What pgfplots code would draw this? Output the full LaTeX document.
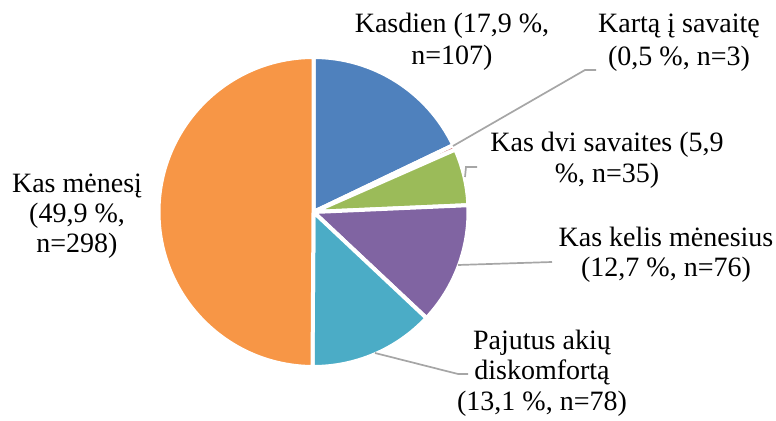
\documentclass[border=0pt]{standalone}
\usepackage{fontspec}
\setmainfont{Liberation Serif}
\usepackage{pgfplots}
\usepackage{pgfplotstable}
\pgfplotsset{compat=1.18}
\definecolor{pieblue}{HTML}{4F81BD}
\definecolor{piered}{HTML}{C0504D}
\definecolor{piegreen}{HTML}{9BBB59}
\definecolor{piepurple}{HTML}{8064A2}
\definecolor{pieteal}{HTML}{4BACC6}
\definecolor{pieorange}{HTML}{F79646}
\definecolor{leader}{HTML}{A6A6A6}

% share of answers (%), count, slice colour; clockwise from 12 o'clock
\pgfplotstableread[col sep=comma]{
pct,n,colour
17.9,107,pieblue
0.5,3,piered
5.9,35,piegreen
12.7,76,piepurple
13.1,78,pieteal
49.9,298,pieorange
}\piedata

\begin{document}
\begin{tikzpicture}[
  lbl/.style={anchor=base, inner sep=0pt, font=\fontsize{28bp}{32bp}\selectfont},
]
\begin{axis}[
  width=776bp, height=421bp, scale only axis,
  xmin=0, xmax=776, ymin=0, ymax=421,
  hide axis, clip=false,
]
\pgfplotsextra{%
  \pgfplotstablegetrowsof{\piedata}%
  \pgfmathtruncatemacro\lastrow{\pgfplotsretval-1}%
  \xdef\startang{90}%
  \foreach \i in {0,...,\lastrow}{%
    \pgfplotstablegetelem{\i}{pct}\of\piedata
    \pgfmathsetmacro\endang{\startang-3.6*\pgfplotsretval}%
    \pgfplotstablegetelem{\i}{colour}\of\piedata
    \edef\slicecol{\pgfplotsretval}%
    \filldraw[fill=\slicecol, draw=white, line width=4bp, line join=round]
      (axis cs:313.5,209) -- ([shift={(\startang:155bp)}]axis cs:313.5,209)
      arc[start angle=\startang, end angle=\endang, radius=155bp] -- cycle;
    \xdef\startang{\endang}%
  }%
}

% leader lines
\draw[leader, line width=1.7bp] (axis cs:453,275) -- (axis cs:585,351) -- (axis cs:596,351);
\draw[leader, line width=1.7bp] (axis cs:465,244) -- (axis cs:466,254) -- (axis cs:477,254);
\draw[leader, line width=1.7bp] (axis cs:458,156) -- (axis cs:552,159);
\draw[leader, line width=1.7bp] (axis cs:375,68) -- (axis cs:458,47) -- (axis cs:468,47);

% data labels
\node[lbl] at (axis cs:452,388) {Kasdien (17,9 \%,};
\node[lbl] at (axis cs:452,356) {n=107)};
\node[lbl] at (axis cs:679,388) {Kartą į savaitę};
\node[lbl] at (axis cs:679,355) {(0,5 \%, n=3)};
\node[lbl] at (axis cs:607,269) {Kas dvi savaites (5,9};
\node[lbl] at (axis cs:607,238) {\%, n=35)};
\node[lbl] at (axis cs:666,174) {Kas kelis mėnesius};
\node[lbl] at (axis cs:666,144) {(12,7 \%, n=76)};
\node[lbl] at (axis cs:542,71) {Pajutus akių};
\node[lbl] at (axis cs:542,41) {diskomfortą};
\node[lbl] at (axis cs:542,11) {(13,1 \%, n=78)};
\node[lbl] at (axis cs:77,228) {Kas mėnesį};
\node[lbl] at (axis cs:77,198) {(49,9 \%,};
\node[lbl] at (axis cs:77,168) {n=298)};
\end{axis}
\pgfresetboundingbox
\path (current axis.south west) rectangle (current axis.north east);
\end{tikzpicture}
\end{document}
